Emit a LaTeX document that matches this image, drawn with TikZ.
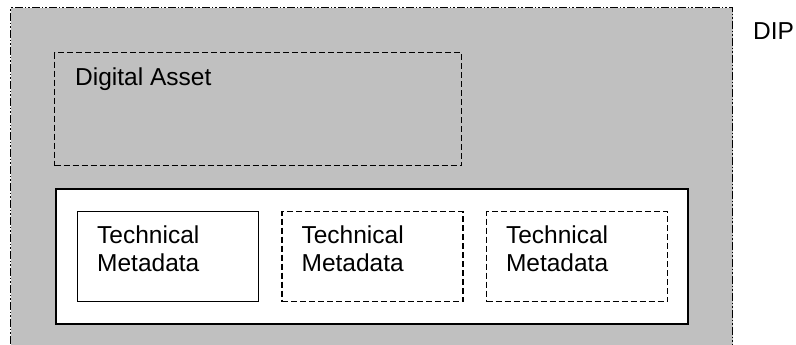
\documentclass[tikz,border=0pt]{standalone}
\usepackage{fontspec}
\setmainfont{Liberation Sans}
\usetikzlibrary{positioning}

\definecolor{dipgray}{HTML}{C0C0C0}

\tikzset{
  box/.style={draw, line width=1.4pt, inner sep=0pt, anchor=north west},
  optional/.style={box, dash pattern=on 6pt off 3pt},
  tech/.style={minimum width=181pt, minimum height=90pt},
  lbl/.style={inner sep=0pt, align=left, font=\fontsize{24.5}{28}\selectfont},
}

\begin{document}
\begin{tikzpicture}[x=1pt, y=-1pt]
  \useasboundingbox (0,0) rectangle (796,345);
  \clip (0,0) rectangle (796,345);

  % package (runs off the bottom)
  \node[box, fill=dipgray, line width=1.2pt,
        dash pattern=on 8pt off 2pt on 1.5pt off 2pt on 1.5pt off 2pt,
        minimum width=722pt, minimum height=370pt] (dip) at (10,7) {};
  \node[lbl, anchor=base west] (diplbl) at (753,40) {DIP};

  \node[optional, minimum width=407pt, minimum height=113pt] (asset) at (54,52) {};
  \node[lbl, anchor=base west] (assetlbl) at ([shift={(21,34)}]asset.north west) {Digital Asset};

  \node[box, fill=white, line width=1.7pt, minimum width=632pt, minimum height=135pt] (meta) at (55,188) {};

  \node[box, tech] (tm1) at (77,211) {};
  \node[optional, tech, anchor=west, right=22pt of tm1] (tm2) {};
  \node[optional, tech, anchor=west, right=22pt of tm2] (tm3) {};
  \foreach \n in {tm1,tm2,tm3}
    \node[lbl, anchor=north west] (\n lbl) at ([shift={(20,15)}]\n.north west) {Technical\\Metadata};
\end{tikzpicture}
\end{document}
